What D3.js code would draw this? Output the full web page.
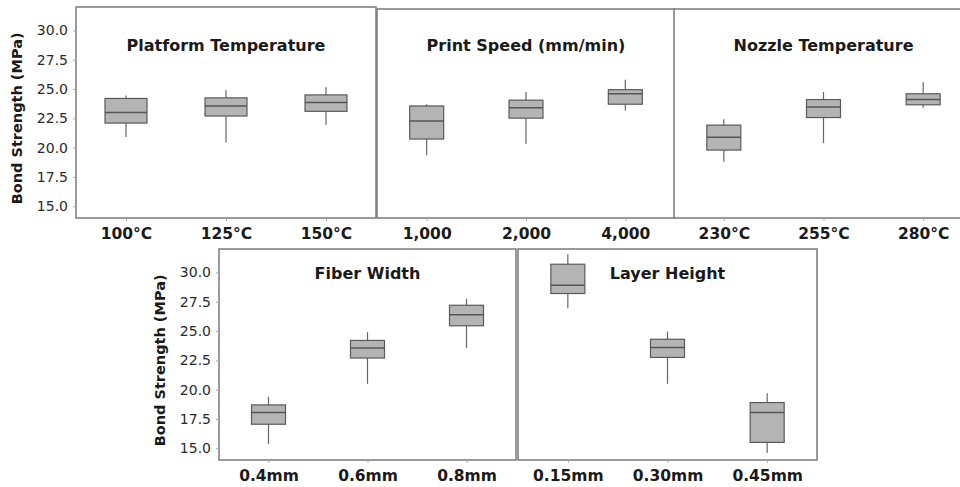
<!DOCTYPE html>
<html>
<head>
<meta charset="utf-8">
<script src="https://cdn.jsdelivr.net/npm/d3@7"></script>
<style>
  html, body { margin: 0; padding: 0; background: #fff; }
  svg { display: block; }
</style>
</head>
<body>
<svg id="chart" width="960" height="487"></svg>
<script>
// ---- Data: [whisker low, Q1, median, Q3, whisker high] ----
const yTicks = [15.0, 17.5, 20.0, 22.5, 25.0, 27.5, 30.0];
const yLabel = "Bond Strength (MPa)";

const platformTitle = "Platform Temperature";
const platformCats = ["100°C", "125°C", "150°C"];
const platformStats = [
  [20.9, 22.1, 23.0, 24.2, 24.45],
  [20.45, 22.7, 23.55, 24.25, 24.9],
  [21.95, 23.1, 23.85, 24.5, 25.15]
];

const speedTitle = "Print Speed (mm/min)";
const speedCats = ["1,000", "2,000", "4,000"];
const speedStats = [
  [19.4, 20.8, 22.35, 23.65, 23.8],
  [20.4, 22.6, 23.5, 24.15, 24.85],
  [23.25, 23.8, 24.7, 25.05, 25.9]
];

const nozzleTitle = "Nozzle Temperature";
const nozzleCats = ["230°C", "255°C", "280°C"];
const nozzleStats = [
  [18.85, 19.85, 20.95, 22.0, 22.5],
  [20.45, 22.65, 23.55, 24.2, 24.85],
  [23.5, 23.75, 24.2, 24.7, 25.7]
];

const widthTitle = "Fiber Width";
const widthCats = ["0.4mm", "0.6mm", "0.8mm"];
const widthStats = [
  [15.35, 17.05, 18.05, 18.7, 19.4],
  [20.5, 22.7, 23.55, 24.2, 24.9],
  [23.55, 25.45, 26.4, 27.2, 27.75]
];

const layerTitle = "Layer Height";
const layerCats = ["0.15mm", "0.30mm", "0.45mm"];
const layerStats = [
  [26.95, 28.2, 28.9, 30.7, 31.55],
  [20.5, 22.75, 23.6, 24.3, 24.95],
  [14.6, 15.5, 18.05, 18.9, 19.7]
];

// ---- Layout ----
const panels = [
  { title: platformTitle, cats: platformCats, stats: platformStats, x0: 76, x1: 376, top: 7, bottom: 218, boxW: 42, showY: true, titleY: 46 },
  { title: speedTitle, cats: speedCats, stats: speedStats, x0: 377, x1: 675, top: 9, bottom: 218, boxW: 34, showY: false, titleY: 46 },
  { title: nozzleTitle, cats: nozzleCats, stats: nozzleStats, x0: 674, x1: 973, top: 9, bottom: 218, boxW: 34, showY: false, titleY: 46 },
  { title: widthTitle, cats: widthCats, stats: widthStats, x0: 219, x1: 516, top: 249, bottom: 460, boxW: 34, showY: true, titleY: 274 },
  { title: layerTitle, cats: layerCats, stats: layerStats, x0: 518, x1: 817, top: 249, bottom: 460, boxW: 34, showY: false, titleY: 274 }
];

const svg = d3.select("#chart");
const font = "'DejaVu Sans', Verdana, sans-serif";
const frameColor = "#7a7a7a";

panels.forEach(p => {
  const x = d3.scalePoint().domain(p.cats).range([p.x0, p.x1]).padding(0.5);
  const y = d3.scaleLinear().domain([14, 32]).range([p.bottom, p.top]);
  const g = svg.append("g");

  // frame
  g.append("rect")
    .attr("x", p.x0).attr("y", p.top)
    .attr("width", p.x1 - p.x0).attr("height", p.bottom - p.top)
    .attr("fill", "#fff").attr("stroke", frameColor).attr("stroke-width", 1.5);

  // x axis
  const xa = g.append("g").attr("transform", `translate(0,${p.bottom})`)
    .call(d3.axisBottom(x).tickSizeOuter(0).tickSize(3).tickPadding(7));
  xa.select(".domain").remove();
  xa.selectAll("line").attr("stroke", "#aaa");
  xa.selectAll("text")
    .attr("font-family", font).attr("font-size", 15.5).attr("font-weight", "bold")
    .attr("fill", "#1a1a1a");

  if (p.showY) {
    const ya = g.append("g").attr("transform", `translate(${p.x0},0)`)
      .call(d3.axisLeft(y).tickValues(yTicks).tickFormat(d3.format(".1f")).tickSize(3).tickPadding(5));
    ya.select(".domain").remove();
    ya.selectAll("line").attr("stroke", "#aaa");
    ya.selectAll("text")
      .attr("font-family", font).attr("font-size", 14)
      .attr("fill", "#2a2a2a");

    g.append("text")
      .attr("transform", `translate(${p.x0 - 58},${(y(30) + y(15)) / 2}) rotate(-90)`)
      .attr("text-anchor", "middle").attr("dominant-baseline", "middle")
      .attr("font-family", font).attr("font-size", 14.5).attr("font-weight", "bold")
      .attr("fill", "#1a1a1a")
      .text(yLabel);
  }

  // title
  g.append("text")
    .attr("x", (p.x0 + p.x1) / 2).attr("y", p.titleY)
    .attr("text-anchor", "middle").attr("dominant-baseline", "middle")
    .attr("font-family", font).attr("font-size", 16).attr("font-weight", "bold")
    .attr("fill", "#1a1a1a")
    .text(p.title);

  // boxes
  p.stats.forEach((s, i) => {
    const cx = x(p.cats[i]);
    const bw = p.boxW;
    g.append("line")
      .attr("x1", cx).attr("x2", cx).attr("y1", y(s[0])).attr("y2", y(s[4]))
      .attr("stroke", "#666").attr("stroke-width", 1.2);
    g.append("rect")
      .attr("x", cx - bw / 2).attr("width", bw)
      .attr("y", y(s[3])).attr("height", y(s[1]) - y(s[3]))
      .attr("fill", "#b4b4b4").attr("stroke", "#5a5a5a").attr("stroke-width", 1.2);
    g.append("line")
      .attr("x1", cx - bw / 2).attr("x2", cx + bw / 2)
      .attr("y1", y(s[2])).attr("y2", y(s[2]))
      .attr("stroke", "#555").attr("stroke-width", 1.5);
  });
});
</script>
</body>
</html>
